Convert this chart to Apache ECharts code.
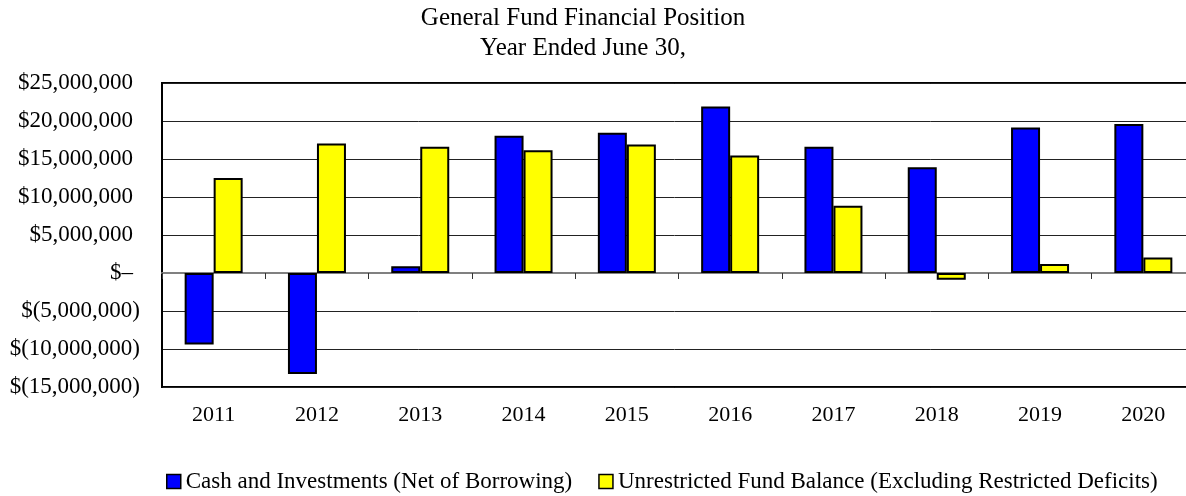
<!DOCTYPE html>
<html>
<head>
<meta charset="utf-8">
<title>General Fund Financial Position</title>
<script src="https://cdn.jsdelivr.net/npm/echarts@6/dist/echarts.min.js"></script>
<style>
    html, body { margin: 0; padding: 0; background: #fff; }
    #chart { width: 1186px; height: 496px; }
</style>
</head>
<body>
<div id="chart"></div>
<script>
// 数据
const years = ['2011', '2012', '2013', '2014', '2015', '2016', '2017', '2018', '2019', '2020']
const cashInvestments = [-9400000, -13300000, 900000, 18050000, 18450000, 21900000, 16600000, 13900000, 19150000, 19600000]
const fundBalance = [12500000, 17050000, 16600000, 16150000, 16900000, 15450000, 8850000, -900000, 1200000, 2050000]
const seriesNames = ['Cash and Investments (Net of Borrowing)', 'Unrestricted Fund Balance (Excluding Restricted Deficits)']

const FONT = '"Liberation Serif", "DejaVu Serif", serif'

// 会计格式 $(x) / $–
function money(v) {
    if (v === 0) {
        return '{p|$–}'
    }
    let s = Math.abs(v).toLocaleString('en-US')
    if (v < 0) {
        return '{n|$(' + s + ')}'
    }
    return '{p|$' + s + '}'
}

const myChart = echarts.init(document.getElementById('chart'))

const option = {
    backgroundColor: '#fff',
    animation: false,
    title: {
        text: 'General Fund Financial Position\nYear Ended June 30,',
        left: 583,
        top: 3,
        padding: 0,
        textAlign: 'center',
        textStyle: {
            fontFamily: FONT,
            fontSize: 25,
            fontWeight: 'normal',
            lineHeight: 30,
            color: '#000'
        }
    },
    legend: {
        left: 166,
        top: 470,
        padding: 0,
        icon: 'rect',
        itemWidth: 14,
        itemHeight: 14,
        itemGap: 26,
        itemStyle: { borderColor: '#000', borderWidth: 1.5 },
        textStyle: { fontFamily: FONT, fontSize: 23, color: '#000' },
        data: seriesNames
    },
    grid: {
        left: 162,
        top: 83,
        width: 1033,
        height: 304,
        outerBoundsMode: 'none',
        show: true,
        borderColor: '#000',
        borderWidth: 2
    },
    xAxis: [
        {
            type: 'category',
            data: years,
            position: 'bottom',
            axisLine: { show: false, onZero: false },
            axisTick: { show: false },
            axisLabel: {
                margin: 17,
                fontFamily: FONT,
                fontSize: 22,
                color: '#000'
            }
        },
        {
            // 零线 + 刻度
            type: 'category',
            data: years,
            position: 'bottom',
            axisLine: { show: true, onZero: true, lineStyle: { color: '#808080', width: 2 } },
            axisTick: { show: true, length: 6, lineStyle: { color: '#333', width: 1 } },
            axisLabel: { show: false }
        }
    ],
    yAxis: {
        type: 'value',
        min: -15000000,
        max: 25000000,
        interval: 5000000,
        axisLine: { show: true, lineStyle: { color: '#000', width: 2 } },
        axisTick: { show: false },
        splitLine: { lineStyle: { color: '#222', width: 1 } },
        axisLabel: {
            margin: 22,
            formatter: money,
            rich: {
                p: { fontFamily: FONT, fontSize: 23, color: '#000', padding: [0, 7, 0, 0] },
                n: { fontFamily: FONT, fontSize: 23, color: '#000' }
            }
        }
    },
    series: [
        {
            name: seriesNames[0],
            type: 'bar',
            xAxisIndex: 0,
            data: cashInvestments,
            barWidth: 29,
            barGap: '0%',
            itemStyle: { color: '#0000FF', borderColor: '#000', borderWidth: 2 }
        },
        {
            name: seriesNames[1],
            type: 'bar',
            xAxisIndex: 0,
            data: fundBalance,
            barWidth: 29,
            barGap: '0%',
            itemStyle: { color: '#FFFF00', borderColor: '#000', borderWidth: 2 }
        }
    ]
}

myChart.setOption(option)
</script>
</body>
</html>
